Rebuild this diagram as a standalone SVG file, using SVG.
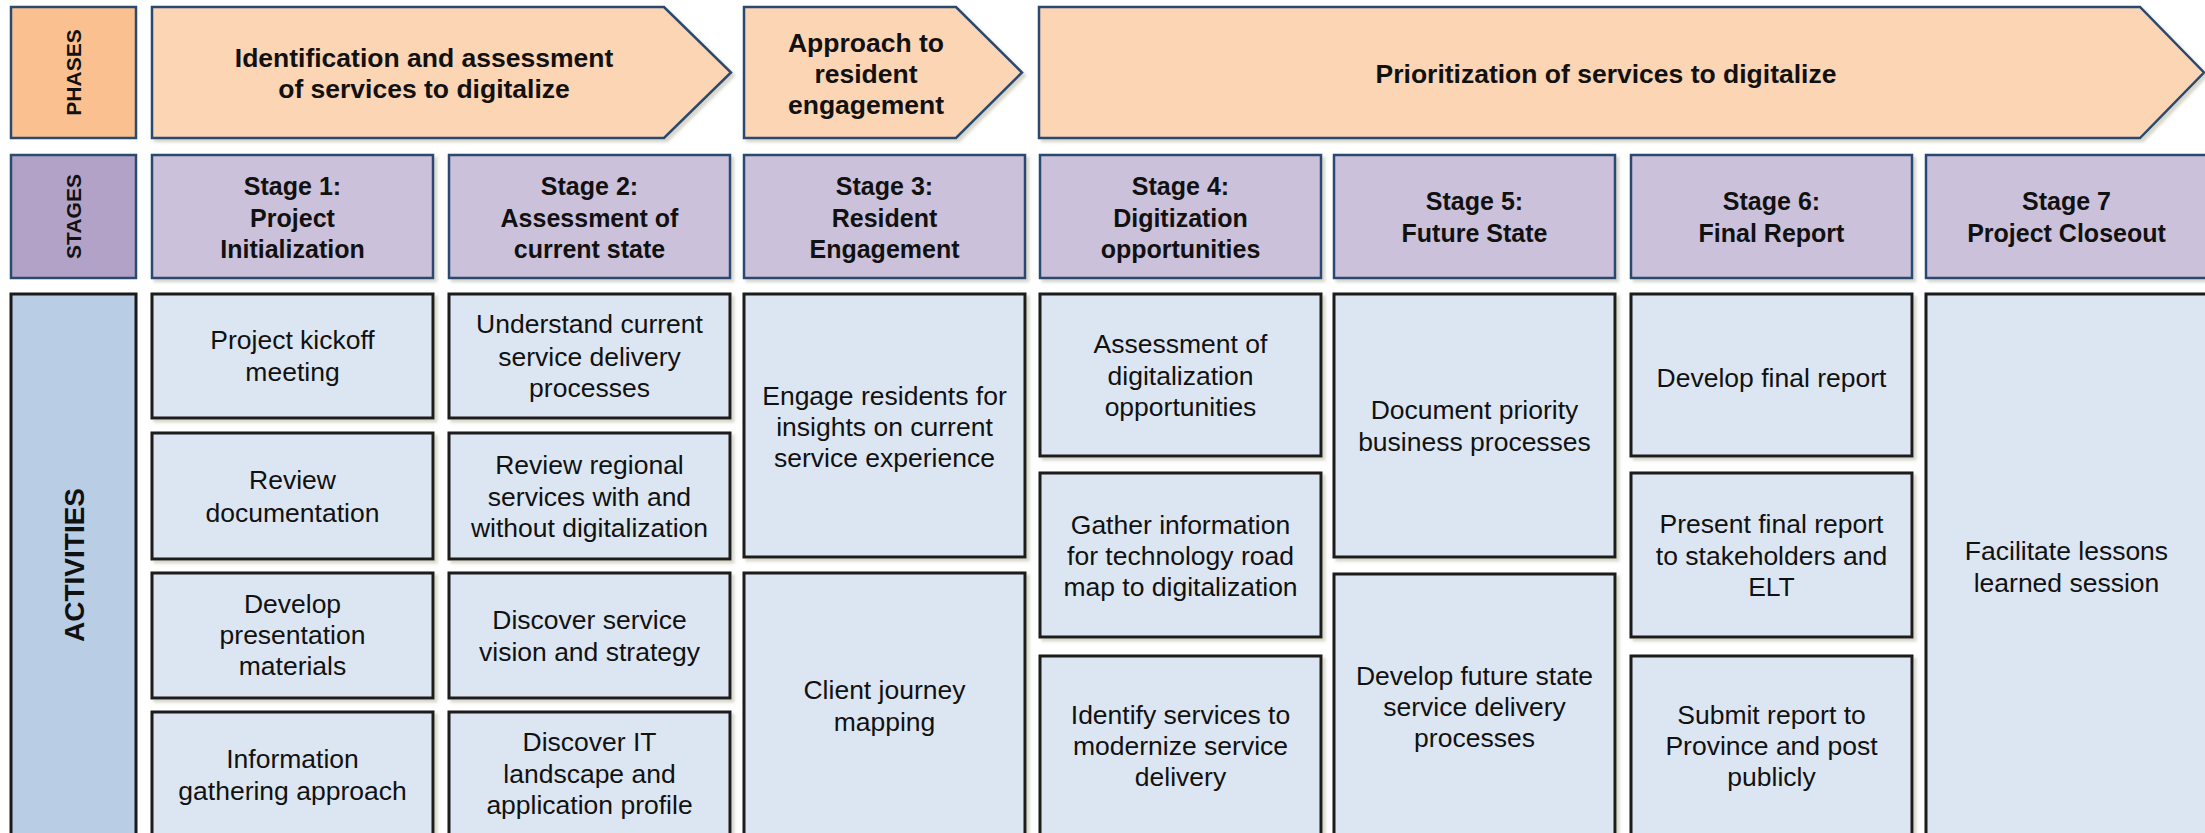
<svg xmlns="http://www.w3.org/2000/svg" width="2205" height="833" viewBox="0 0 2205 833">
<defs>
<filter id="sh" x="-5%" y="-5%" width="115%" height="115%">
<feDropShadow dx="3" dy="3" stdDeviation="1.5" flood-color="#8a8a70" flood-opacity="0.35"/>
</filter>
</defs>
<style>
.phl{fill:#FAC090;stroke:#2B4A6F;stroke-width:2.5}
.ph{fill:#FCD5B5;stroke:#2B4A6F;stroke-width:2.5;filter:url(#sh)}
.stl{fill:#B3A2C7;stroke:#2B4A6F;stroke-width:2.5}
.st{fill:#CCC1DA;stroke:#2B4A6F;stroke-width:2.5;filter:url(#sh)}
.acl{fill:#B9CDE5;stroke:#1a1a1a;stroke-width:3}
.ac{fill:#DCE6F2;stroke:#1a1a1a;stroke-width:3;filter:url(#sh)}
text{font-family:"Liberation Sans",Arial,sans-serif;fill:#111;text-anchor:middle}
.b{font-weight:bold;font-size:25px}
.p{font-weight:bold;font-size:26.5px}
.a{font-size:26.5px}
.v{font-weight:bold;font-size:21px}
.vb{font-weight:bold;font-size:28px}
</style>
<rect width="2205" height="833" fill="#ffffff"/>

<g id="label-phases">
<rect class="phl" x="11" y="7" width="125" height="131"/>
<text class="v" transform="translate(81,72.5) rotate(-90)">PHASES</text>
</g>
<g id="label-stages">
<rect class="stl" x="11" y="155" width="125" height="123"/>
<text class="v" transform="translate(81,216.5) rotate(-90)">STAGES</text>
</g>
<g id="label-activities">
<rect class="acl" x="11" y="294" width="125" height="560"/>
<text class="vb" transform="translate(84,565) rotate(-90)">ACTIVITIES</text>
</g>

<g id="phase-1">
<polygon class="ph" points="152,7 664,7 731,72.5 664,138 152,138"/>
<text class="p" x="424" y="67">Identification and assessment</text>
<text class="p" x="424" y="98">of services to digitalize</text>
</g>
<g id="phase-2">
<polygon class="ph" points="744,7 956,7 1022,72.5 956,138 744,138"/>
<text class="p" x="866" y="51.5">Approach to</text>
<text class="p" x="866" y="82.5">resident</text>
<text class="p" x="866" y="113.5">engagement</text>
</g>
<g id="phase-3">
<polygon class="ph" points="1039,7 2140,7 2204,72.5 2140,138 1039,138"/>
<text class="p" x="1606" y="82.5">Prioritization of services to digitalize</text>
</g>

<g id="stage-1">
<rect class="st" x="152" y="155" width="281" height="123"/>
<text class="b" x="292.5" y="194.6">Stage 1:</text>
<text class="b" x="292.5" y="226.6">Project</text>
<text class="b" x="292.5" y="258">Initialization</text>
</g>
<g id="stage-2">
<rect class="st" x="449" y="155" width="281" height="123"/>
<text class="b" x="589.5" y="194.6">Stage 2:</text>
<text class="b" x="589.5" y="226.6">Assessment of</text>
<text class="b" x="589.5" y="258">current state</text>
</g>
<g id="stage-3">
<rect class="st" x="744" y="155" width="281" height="123"/>
<text class="b" x="884.5" y="194.6">Stage 3:</text>
<text class="b" x="884.5" y="226.6">Resident</text>
<text class="b" x="884.5" y="258">Engagement</text>
</g>
<g id="stage-4">
<rect class="st" x="1040" y="155" width="281" height="123"/>
<text class="b" x="1180.5" y="194.6">Stage 4:</text>
<text class="b" x="1180.5" y="226.6">Digitization</text>
<text class="b" x="1180.5" y="258">opportunities</text>
</g>
<g id="stage-5">
<rect class="st" x="1334" y="155" width="281" height="123"/>
<text class="b" x="1474.5" y="210">Stage 5:</text>
<text class="b" x="1474.5" y="242.4">Future State</text>
</g>
<g id="stage-6">
<rect class="st" x="1631" y="155" width="281" height="123"/>
<text class="b" x="1771.5" y="210">Stage 6:</text>
<text class="b" x="1771.5" y="242.4">Final Report</text>
</g>
<g id="stage-7">
<rect class="st" x="1926" y="155" width="290" height="123"/>
<text class="b" x="2066.5" y="210">Stage 7</text>
<text class="b" x="2066.5" y="242.4">Project Closeout</text>
</g>

<g id="act-1-1">
<rect class="ac" x="152" y="294" width="281" height="124"/>
<text class="a" x="292.5" y="348.5">Project kickoff</text>
<text class="a" x="292.5" y="380.5">meeting</text>
</g>
<g id="act-1-2">
<rect class="ac" x="152" y="433" width="281" height="126"/>
<text class="a" x="292.5" y="489">Review</text>
<text class="a" x="292.5" y="521.5">documentation</text>
</g>
<g id="act-1-3">
<rect class="ac" x="152" y="573" width="281" height="125"/>
<text class="a" x="292.5" y="612.5">Develop</text>
<text class="a" x="292.5" y="643.5">presentation</text>
<text class="a" x="292.5" y="674.5">materials</text>
</g>
<g id="act-1-4">
<rect class="ac" x="152" y="712" width="281" height="140"/>
<text class="a" x="292.5" y="767.5">Information</text>
<text class="a" x="292.5" y="799.5">gathering approach</text>
</g>

<g id="act-2-1">
<rect class="ac" x="449" y="294" width="281" height="124"/>
<text class="a" x="589.5" y="332.5">Understand current</text>
<text class="a" x="589.5" y="365.5">service delivery</text>
<text class="a" x="589.5" y="396.5">processes</text>
</g>
<g id="act-2-2">
<rect class="ac" x="449" y="433" width="281" height="126"/>
<text class="a" x="589.5" y="473.5">Review regional</text>
<text class="a" x="589.5" y="505.5">services with and</text>
<text class="a" x="589.5" y="536.5">without digitalization</text>
</g>
<g id="act-2-3">
<rect class="ac" x="449" y="573" width="281" height="125"/>
<text class="a" x="589.5" y="628.5">Discover service</text>
<text class="a" x="589.5" y="660.5">vision and strategy</text>
</g>
<g id="act-2-4">
<rect class="ac" x="449" y="712" width="281" height="140"/>
<text class="a" x="589.5" y="750.5">Discover IT</text>
<text class="a" x="589.5" y="782.5">landscape and</text>
<text class="a" x="589.5" y="813.5">application profile</text>
</g>

<g id="act-3-1">
<rect class="ac" x="744" y="294" width="281" height="263"/>
<text class="a" x="884.5" y="404.5">Engage residents for</text>
<text class="a" x="884.5" y="435.5">insights on current</text>
<text class="a" x="884.5" y="466.5">service experience</text>
</g>
<g id="act-3-2">
<rect class="ac" x="744" y="573" width="281" height="280"/>
<text class="a" x="884.5" y="698.5">Client journey</text>
<text class="a" x="884.5" y="730.5">mapping</text>
</g>

<g id="act-4-1">
<rect class="ac" x="1040" y="294" width="281" height="162"/>
<text class="a" x="1180.5" y="352.5">Assessment of</text>
<text class="a" x="1180.5" y="384.5">digitalization</text>
<text class="a" x="1180.5" y="415.5">opportunities</text>
</g>
<g id="act-4-2">
<rect class="ac" x="1040" y="473" width="281" height="164"/>
<text class="a" x="1180.5" y="533.5">Gather information</text>
<text class="a" x="1180.5" y="564.5">for technology road</text>
<text class="a" x="1180.5" y="595.5">map to digitalization</text>
</g>
<g id="act-4-3">
<rect class="ac" x="1040" y="656" width="281" height="196"/>
<text class="a" x="1180.5" y="723.5">Identify services to</text>
<text class="a" x="1180.5" y="754.5">modernize service</text>
<text class="a" x="1180.5" y="785.5">delivery</text>
</g>

<g id="act-5-1">
<rect class="ac" x="1334" y="294" width="281" height="263"/>
<text class="a" x="1474.5" y="418.5">Document priority</text>
<text class="a" x="1474.5" y="451">business processes</text>
</g>
<g id="act-5-2">
<rect class="ac" x="1334" y="574" width="281" height="280"/>
<text class="a" x="1474.5" y="684.5">Develop future state</text>
<text class="a" x="1474.5" y="715.5">service delivery</text>
<text class="a" x="1474.5" y="746.5">processes</text>
</g>

<g id="act-6-1">
<rect class="ac" x="1631" y="294" width="281" height="162"/>
<text class="a" x="1771.5" y="386.5">Develop final report</text>
</g>
<g id="act-6-2">
<rect class="ac" x="1631" y="473" width="281" height="164"/>
<text class="a" x="1771.5" y="532.5">Present final report</text>
<text class="a" x="1771.5" y="564.5">to stakeholders and</text>
<text class="a" x="1771.5" y="595.5">ELT</text>
</g>
<g id="act-6-3">
<rect class="ac" x="1631" y="656" width="281" height="196"/>
<text class="a" x="1771.5" y="723.5">Submit report to</text>
<text class="a" x="1771.5" y="754.5">Province and post</text>
<text class="a" x="1771.5" y="785.5">publicly</text>
</g>

<g id="act-7-1">
<rect class="ac" x="1926" y="294" width="290" height="560"/>
<text class="a" x="2066.5" y="559.5">Facilitate lessons</text>
<text class="a" x="2066.5" y="591.5">learned session</text>
</g>
</svg>
